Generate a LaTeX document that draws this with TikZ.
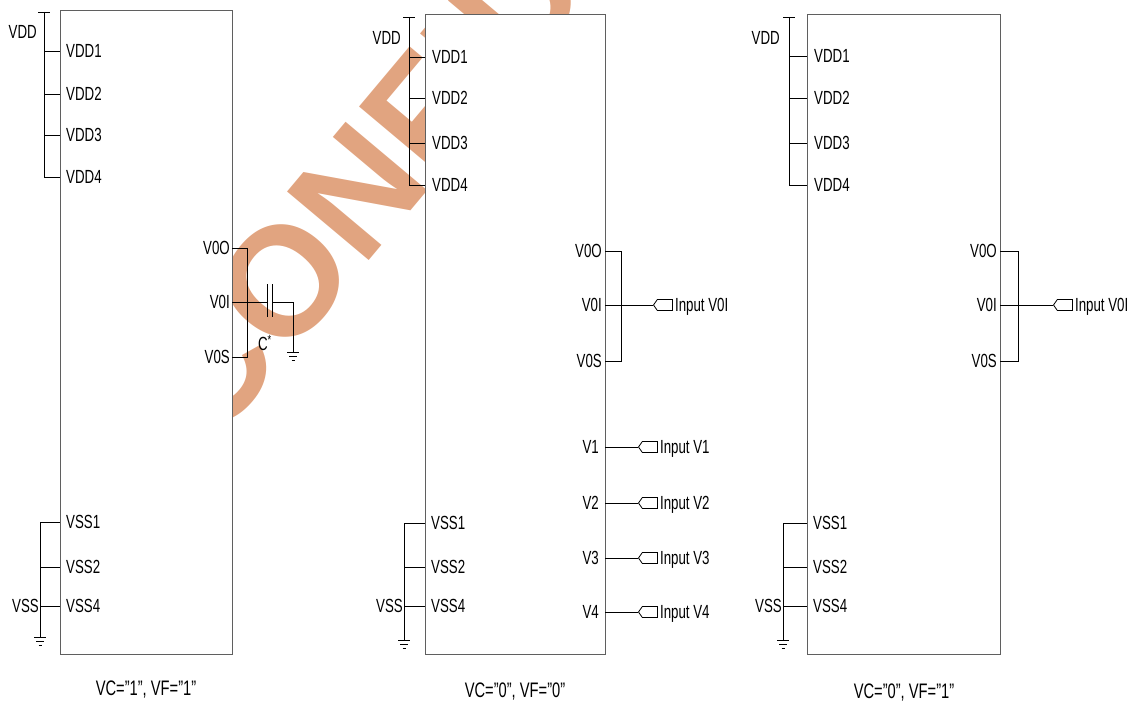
\documentclass[tikz,border=0pt]{standalone}
\usepackage{fontspec}
\setmainfont{Liberation Sans}[FakeStretch=0.7]
\newfontfamily\wmfont{Liberation Sans Bold}
\usetikzlibrary{positioning,shapes.symbols}

\definecolor{wmark}{RGB}{225,164,128}
\definecolor{boxline}{RGB}{95,95,95}

\begin{document}
\begin{tikzpicture}[x=1pt,y=-1pt,
    chip/.style={draw=boxline,line width=1.2pt,fill=white,inner sep=0pt,anchor=north west},
    pin/.style={inner sep=1pt,text depth=0pt,font=\fontsize{19}{19}\selectfont},
    caption/.style={inner sep=0pt,font=\fontsize{21}{21}\selectfont},
    wire/.style={line width=0.8pt},
    inport/.style={draw,line width=0.8pt,signal,signal to=west,signal from=nowhere,
      signal pointer angle=110,minimum width=19pt,minimum height=11pt,inner sep=0pt,anchor=west},
    gnd/.pic={\draw[wire] (-6,0) -- (6,0) (-4,4) -- (4,4) (-1.5,8) -- (1.5,8);}]
  \useasboundingbox (0,0) rectangle (1137,708);
  \clip (0,0) rectangle (1137,708);

  % watermark, behind the chips
  \node[rotate=50,anchor=base west,inner sep=0pt,text=wmark,
    font=\wmfont\fontsize{155}{155}\selectfont] (wm) at (213,447) {CONFIDENTIAL};

  \node[chip,minimum width=172pt,minimum height=644pt] (chip1) at (60,10) {};
  \node[chip,minimum width=180pt,minimum height=640pt] (chip2) at (425,14) {};
  \node[chip,minimum width=193pt,minimum height=640pt] (chip3) at (807,14) {};

  % chip 1
  \coordinate (vdd_a) at (44,12);
  \foreach \i/\y in {1/51,2/94,3/135,4/177}{
    \coordinate (vdd\i_a) at (44,\y);
    \node[pin,anchor=west] (l_vdd\i_a) at (65,\y) {VDD\i};
    \draw[wire] (vdd\i_a) -- (vdd\i_a -| chip1.west);
  }
  \draw[wire] ([xshift=-6pt]vdd_a) -- ([xshift=6pt]vdd_a) (vdd_a) -- (vdd4_a);
  \node[pin,anchor=east] (l_vdd_a) at (38,32) {VDD};
  \foreach \i/\y in {1/522,2/567,4/606}{
    \coordinate (vss\i_a) at (40,\y);
    \node[pin,anchor=west] (l_vss\i_a) at (65,\y) {VSS\i};
    \draw[wire] (vss\i_a) -- (vss\i_a -| chip1.west);
  }
  \coordinate (gnd_a) at (40,637);
  \draw[wire] (vss1_a) -- (gnd_a);
  \pic at (gnd_a) {gnd};
  \node[pin,anchor=east] (l_vss_a) at (40,606) {VSS};
  \foreach \n/\y in {O/248,I/302,S/357}{
    \coordinate (v0\n_a) at (232,\y);
    \node[pin,anchor=east] (l_v0\n_a) at (231,\y) {V0\n};
  }
  \coordinate (bar_a) at (247,248);
  \draw[wire] (v0O_a) -- (bar_a) -- (bar_a |- v0S_a) -- (v0S_a);
  \coordinate (cap1_a) at (267,302);
  \coordinate (cap2_a) at (272,302);
  \coordinate (cgnd_a) at (293,352);
  \draw[wire] (v0I_a) -- (cap1_a) (cap2_a) -- (cap2_a -| cgnd_a) -- (cgnd_a);
  \draw[wire] ([yshift=-15pt]cap1_a) -- ([yshift=18pt]cap1_a)
    ([yshift=-15pt]cap2_a) -- ([yshift=18pt]cap2_a);
  \pic at (cgnd_a) {gnd};
  \node[pin] (l_cap_a) at (265,343) {C\textsuperscript{*}};
  \node[caption] (cap_a) at (146,690) {VC=”1”, VF=”1”};

  % chip 2
  \coordinate (vdd_b) at (409,17);
  \foreach \i/\y in {1/57,2/98,3/143,4/185}{
    \coordinate (vdd\i_b) at (409,\y);
    \node[pin,anchor=west] (l_vdd\i_b) at (431,\y) {VDD\i};
    \draw[wire] (vdd\i_b) -- (vdd\i_b -| chip2.west);
  }
  \draw[wire] ([xshift=-6pt]vdd_b) -- ([xshift=6pt]vdd_b) (vdd_b) -- (vdd4_b);
  \node[pin,anchor=east] (l_vdd_b) at (402,38) {VDD};
  \foreach \i/\y in {1/523,2/567,4/606}{
    \coordinate (vss\i_b) at (404,\y);
    \node[pin,anchor=west] (l_vss\i_b) at (430,\y) {VSS\i};
    \draw[wire] (vss\i_b) -- (vss\i_b -| chip2.west);
  }
  \coordinate (gnd_b) at (404,640);
  \draw[wire] (vss1_b) -- (gnd_b);
  \pic at (gnd_b) {gnd};
  \node[pin,anchor=east] (l_vss_b) at (404,606) {VSS};
  \foreach \n/\y in {O/251,I/305,S/361}{
    \coordinate (v0\n_b) at (605,\y);
    \node[pin,anchor=east] (l_v0\n_b) at (603,\y) {V0\n};
  }
  \coordinate (bar_b) at (621,251);
  \draw[wire] (v0O_b) -- (bar_b) -- (bar_b |- v0S_b) -- (v0S_b);
  \node[inport] (in_v0I_b) at (653,305) {};
  \node[pin,right=1pt of in_v0I_b] (l_in_v0I_b) {Input V0I};
  \draw[wire] (v0I_b) -- (in_v0I_b);
  \foreach \i/\y in {1/447,2/503,3/558,4/612}{
    \coordinate (v\i_b) at (605,\y);
    \node[pin,anchor=east] (l_v\i_b) at (600,\y) {V\i};
    \node[inport] (in_v\i_b) at (638,\y) {};
    \node[pin,right=1pt of in_v\i_b] (l_in_v\i_b) {Input V\i};
    \draw[wire] (v\i_b) -- (in_v\i_b);
  }
  \node[caption] (cap_b) at (515,692) {VC=”0”, VF=”0”};

  % chip 3
  \coordinate (vdd_c) at (789,17);
  \foreach \i/\y in {1/56,2/98,3/143,4/185}{
    \coordinate (vdd\i_c) at (789,\y);
    \node[pin,anchor=west] (l_vdd\i_c) at (813,\y) {VDD\i};
    \draw[wire] (vdd\i_c) -- (vdd\i_c -| chip3.west);
  }
  \draw[wire] ([xshift=-6pt]vdd_c) -- ([xshift=6pt]vdd_c) (vdd_c) -- (vdd4_c);
  \node[pin,anchor=east] (l_vdd_c) at (781,38) {VDD};
  \foreach \i/\y in {1/523,2/567,4/606}{
    \coordinate (vss\i_c) at (783,\y);
    \node[pin,anchor=west] (l_vss\i_c) at (812,\y) {VSS\i};
    \draw[wire] (vss\i_c) -- (vss\i_c -| chip3.west);
  }
  \coordinate (gnd_c) at (783,640);
  \draw[wire] (vss1_c) -- (gnd_c);
  \pic at (gnd_c) {gnd};
  \node[pin,anchor=east] (l_vss_c) at (783,606) {VSS};
  \foreach \n/\y in {O/251,I/305,S/361}{
    \coordinate (v0\n_c) at (1000,\y);
    \node[pin,anchor=east] (l_v0\n_c) at (998,\y) {V0\n};
  }
  \coordinate (bar_c) at (1018,251);
  \draw[wire] (v0O_c) -- (bar_c) -- (bar_c |- v0S_c) -- (v0S_c);
  \node[inport] (in_v0I_c) at (1053,305) {};
  \node[pin,right=1pt of in_v0I_c] (l_in_v0I_c) {Input V0I};
  \draw[wire] (v0I_c) -- (in_v0I_c);
  \node[caption] (cap_c) at (904,693) {VC=”0”, VF=”1”};
\end{tikzpicture}
\end{document}
